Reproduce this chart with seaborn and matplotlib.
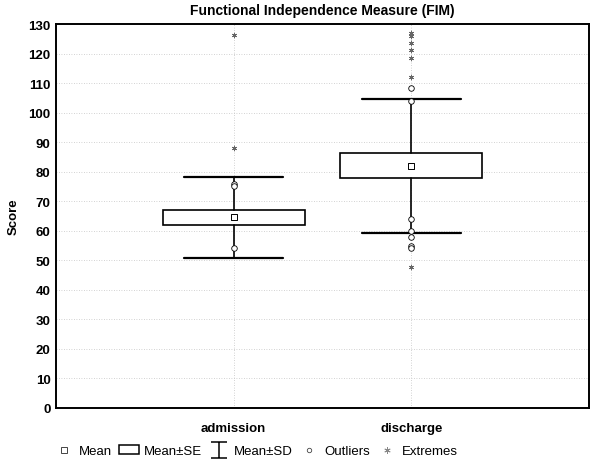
import numpy as np
import pandas as pd
import matplotlib
matplotlib.use("Agg")
import matplotlib.pyplot as plt
import seaborn as sns
from matplotlib.lines import Line2D
from matplotlib.patches import Patch
from matplotlib.path import Path

# ---- data ----
categories = ["admission", "discharge"]
means = [64.5, 81.9]
se_low = [62.1, 77.7]
se_high = [67.2, 86.2]
sd_low = [50.9, 59.2]
sd_high = [78.2, 104.7]
outliers_adm = [75.8, 75.2, 54.0]
outliers_dis = [108.3, 104.0, 63.9, 60.0, 58.0, 55.0, 54.1]
extremes_adm = [126.4, 88.1]
extremes_dis = [126.8, 125.8, 123.5, 121.3, 118.4, 112.2, 47.8]
yticks = list(range(0, 131, 10))

sns.set_style("white")
plt.rcParams["font.family"] = ["Liberation Sans", "DejaVu Sans"]
plt.rcParams.update({"text.color": "black", "axes.labelcolor": "black",
                     "xtick.color": "black", "ytick.color": "black"})

fig = plt.figure(figsize=(5.91, 4.60), dpi=100)
ax = fig.add_axes([56 / 591, 1 - 409 / 460, 533 / 591, 384 / 460])

pos = np.arange(len(categories))

# grid
for y in yticks:
    ax.axhline(y, color="#c4c4c4", lw=0.6, ls=(0, (1, 2)), zorder=0)
for p in pos:
    ax.axvline(p, color="#c4c4c4", lw=0.6, ls=(0, (1, 2)), zorder=0)

stats = []
for i, c in enumerate(categories):
    stats.append(dict(med=means[i], q1=se_low[i], q3=se_high[i],
                      whislo=sd_low[i], whishi=sd_high[i], fliers=[], label=c))
ax.bxp(stats, positions=pos, widths=0.8, showfliers=False, patch_artist=True,
       boxprops=dict(facecolor="white", edgecolor="black", lw=1.2),
       whiskerprops=dict(color="black", lw=1.2),
       capprops=dict(color="black", lw=1.6), capwidths=0.56,
       medianprops=dict(color="none", lw=0), zorder=3)

mean_df = pd.DataFrame({"x": pos, "y": means})
sns.scatterplot(data=mean_df, x="x", y="y", marker="s", s=20, facecolor="white",
                edgecolor="black", linewidth=0.7, ax=ax, zorder=5)

out_df = pd.DataFrame({"x": [0] * len(outliers_adm) + [1] * len(outliers_dis),
                       "y": outliers_adm + outliers_dis})
sns.scatterplot(data=out_df, x="x", y="y", marker="o", s=16, facecolor="white",
                edgecolor="black", linewidth=0.6, ax=ax, zorder=5)

ext_df = pd.DataFrame({"x": [0] * len(extremes_adm) + [1] * len(extremes_dis),
                       "y": extremes_adm + extremes_dis})
sns.scatterplot(data=ext_df, x="x", y="y", marker=(6, 2, 0), s=12,
                color="#666666", linewidth=0.6, ax=ax, zorder=5)

ax.set_xlim(-1, 2)
ax.set_ylim(0, 130)
ax.set_yticks(yticks)
ax.set_xticks(pos)
ax.set_xticklabels(categories)
ax.set_xlabel("")
ax.set_ylabel("Score", fontsize=9.5, fontweight="bold", labelpad=6)
ax.set_title("Functional Independence Measure (FIM)", fontsize=10,
             fontweight="bold", pad=7)
for lab in ax.get_yticklabels() + ax.get_xticklabels():
    lab.set_fontweight("bold")
    lab.set_fontsize(9.5)
ax.tick_params(axis="both", length=0, pad=4)
ax.tick_params(axis="x", pad=10)
for s in ax.spines.values():
    s.set_color("black")
    s.set_linewidth(1.4)
    s.set_visible(True)

# legend
ibeam = Path([(-1, 1), (1, 1), (0, 1), (0, -1), (-1, -1), (1, -1)],
             [Path.MOVETO, Path.LINETO, Path.MOVETO, Path.LINETO, Path.MOVETO, Path.LINETO])
handles = [
    Line2D([], [], ls="none", marker="s", ms=4, mfc="white", mec="#444444", mew=0.7),
    Patch(facecolor="white", edgecolor="black", lw=1.1),
    Line2D([], [], ls="none", marker=ibeam, ms=12, mfc="none", mec="black", mew=1.1),
    Line2D([], [], ls="none", marker="o", ms=3.2, mfc="white", mec="#444444", mew=0.6),
    Line2D([], [], ls="none", marker=(6, 2, 0), ms=4.5, mec="#888888", mew=0.6),
]
labels = ["Mean", "Mean\u00b1SE", "Mean\u00b1SD", "Outliers", "Extremes"]
fig.legend(handles, labels, loc="center", bbox_to_anchor=(256 / 591, 1 - 452 / 460),
           ncol=5, frameon=False, fontsize=9.5, handlelength=1.5,
           handletextpad=0.4, columnspacing=0.5)

fig.savefig("out.png", dpi=100)
